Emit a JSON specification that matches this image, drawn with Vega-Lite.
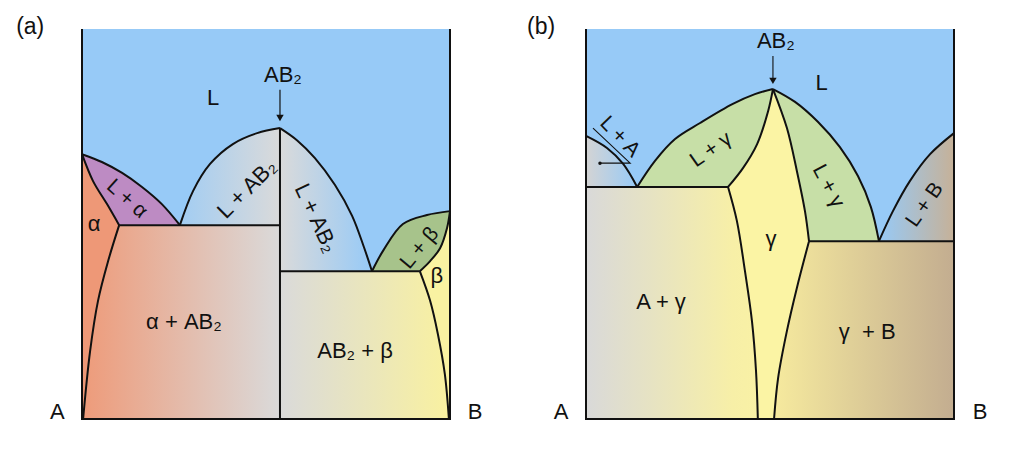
{
  "$schema": "https://vega.github.io/schema/vega-lite/v6.json",
  "padding": {"left": 16, "top": 16, "right": 0, "bottom": 0},
  "background": "white",
  "bounds": "flush",
  "spacing": 136,
  "config": {"view": {"stroke": null}, "font": "Liberation Sans"},
  "datasets": {
    "ar": [
      {"r": "alpha", "i": 0, "x": 0, "y": 67.9}, {"r": "alpha", "i": 1, "x": 3.0, "y": 61.0}, {"r": "alpha", "i": 2, "x": 6.8, "y": 55.1}, {"r": "alpha", "i": 3, "x": 10.1, "y": 49.7}, {"r": "alpha", "i": 4, "x": 10.1, "y": 49.7}, {"r": "alpha", "i": 5, "x": 7.1, "y": 40.5}, {"r": "alpha", "i": 6, "x": 4.35, "y": 30.3}, {"r": "alpha", "i": 7, "x": 2.2, "y": 17.4}, {"r": "alpha", "i": 8, "x": 0.3, "y": 0}, {"r": "alpha", "i": 9, "x": 0.3, "y": 0}, {"r": "alpha", "i": 10, "x": 0, "y": 0}, {"r": "alpha", "i": 11, "x": 0, "y": 0}, {"r": "alpha", "i": 12, "x": 0, "y": 67.9},
      {"r": "Lalpha", "i": 0, "x": 0, "y": 67.9}, {"r": "Lalpha", "i": 1, "x": 5.4, "y": 65.9}, {"r": "Lalpha", "i": 2, "x": 10.9, "y": 63.1}, {"r": "Lalpha", "i": 3, "x": 16.3, "y": 59.5}, {"r": "Lalpha", "i": 4, "x": 21.7, "y": 55.1}, {"r": "Lalpha", "i": 5, "x": 26.6, "y": 49.7}, {"r": "Lalpha", "i": 6, "x": 26.6, "y": 49.7}, {"r": "Lalpha", "i": 7, "x": 10.1, "y": 49.7}, {"r": "Lalpha", "i": 8, "x": 10.1, "y": 49.7}, {"r": "Lalpha", "i": 9, "x": 6.8, "y": 55.1}, {"r": "Lalpha", "i": 10, "x": 3.0, "y": 61.0}, {"r": "Lalpha", "i": 11, "x": 0, "y": 67.9},
      {"r": "alphaAB2", "i": 0, "x": 10.1, "y": 49.7}, {"r": "alphaAB2", "i": 1, "x": 53.8, "y": 49.7}, {"r": "alphaAB2", "i": 2, "x": 53.8, "y": 49.7}, {"r": "alphaAB2", "i": 3, "x": 53.8, "y": 0}, {"r": "alphaAB2", "i": 4, "x": 53.8, "y": 0}, {"r": "alphaAB2", "i": 5, "x": 0.3, "y": 0}, {"r": "alphaAB2", "i": 6, "x": 0.3, "y": 0}, {"r": "alphaAB2", "i": 7, "x": 2.2, "y": 17.4}, {"r": "alphaAB2", "i": 8, "x": 4.35, "y": 30.3}, {"r": "alphaAB2", "i": 9, "x": 7.1, "y": 40.5}, {"r": "alphaAB2", "i": 10, "x": 10.1, "y": 49.7},
      {"r": "LAB2l", "i": 0, "x": 26.6, "y": 49.7}, {"r": "LAB2l", "i": 1, "x": 30.2, "y": 58.5}, {"r": "LAB2l", "i": 2, "x": 34.8, "y": 65.4}, {"r": "LAB2l", "i": 3, "x": 41.0, "y": 70.5}, {"r": "LAB2l", "i": 4, "x": 47.6, "y": 73.3}, {"r": "LAB2l", "i": 5, "x": 53.8, "y": 74.6}, {"r": "LAB2l", "i": 6, "x": 53.8, "y": 74.6}, {"r": "LAB2l", "i": 7, "x": 53.8, "y": 49.7}, {"r": "LAB2l", "i": 8, "x": 53.8, "y": 49.7}, {"r": "LAB2l", "i": 9, "x": 26.6, "y": 49.7},
      {"r": "LAB2r", "i": 0, "x": 53.8, "y": 74.6}, {"r": "LAB2r", "i": 1, "x": 58.4, "y": 71.5}, {"r": "LAB2r", "i": 2, "x": 63.3, "y": 66.9}, {"r": "LAB2r", "i": 3, "x": 68.75, "y": 60.0}, {"r": "LAB2r", "i": 4, "x": 73.4, "y": 52.1}, {"r": "LAB2r", "i": 5, "x": 76.6, "y": 44.1}, {"r": "LAB2r", "i": 6, "x": 78.8, "y": 37.9}, {"r": "LAB2r", "i": 7, "x": 78.8, "y": 37.9}, {"r": "LAB2r", "i": 8, "x": 53.8, "y": 37.9}, {"r": "LAB2r", "i": 9, "x": 53.8, "y": 37.9}, {"r": "LAB2r", "i": 10, "x": 53.8, "y": 74.6},
      {"r": "AB2beta", "i": 0, "x": 53.8, "y": 37.9}, {"r": "AB2beta", "i": 1, "x": 91.8, "y": 37.9}, {"r": "AB2beta", "i": 2, "x": 91.8, "y": 37.9}, {"r": "AB2beta", "i": 3, "x": 94.6, "y": 30.3}, {"r": "AB2beta", "i": 4, "x": 96.7, "y": 21.8}, {"r": "AB2beta", "i": 5, "x": 98.6, "y": 11.5}, {"r": "AB2beta", "i": 6, "x": 99.7, "y": 0}, {"r": "AB2beta", "i": 7, "x": 99.7, "y": 0}, {"r": "AB2beta", "i": 8, "x": 53.8, "y": 0}, {"r": "AB2beta", "i": 9, "x": 53.8, "y": 0}, {"r": "AB2beta", "i": 10, "x": 53.8, "y": 37.9},
      {"r": "beta", "i": 0, "x": 91.8, "y": 37.9}, {"r": "beta", "i": 1, "x": 94.6, "y": 40.5}, {"r": "beta", "i": 2, "x": 97.3, "y": 43.8}, {"r": "beta", "i": 3, "x": 99.2, "y": 49.0}, {"r": "beta", "i": 4, "x": 100, "y": 53.3}, {"r": "beta", "i": 5, "x": 100, "y": 53.3}, {"r": "beta", "i": 6, "x": 100, "y": 0}, {"r": "beta", "i": 7, "x": 100, "y": 0}, {"r": "beta", "i": 8, "x": 99.7, "y": 0}, {"r": "beta", "i": 9, "x": 99.7, "y": 0}, {"r": "beta", "i": 10, "x": 98.6, "y": 11.5}, {"r": "beta", "i": 11, "x": 96.7, "y": 21.8}, {"r": "beta", "i": 12, "x": 94.6, "y": 30.3}, {"r": "beta", "i": 13, "x": 91.8, "y": 37.9},
      {"r": "Lbeta", "i": 0, "x": 78.8, "y": 37.9}, {"r": "Lbeta", "i": 1, "x": 81.8, "y": 43.1}, {"r": "Lbeta", "i": 2, "x": 87.2, "y": 50.0}, {"r": "Lbeta", "i": 3, "x": 93.75, "y": 52.3}, {"r": "Lbeta", "i": 4, "x": 100, "y": 53.3}, {"r": "Lbeta", "i": 5, "x": 100, "y": 53.3}, {"r": "Lbeta", "i": 6, "x": 99.2, "y": 49.0}, {"r": "Lbeta", "i": 7, "x": 97.3, "y": 43.8}, {"r": "Lbeta", "i": 8, "x": 94.6, "y": 40.5}, {"r": "Lbeta", "i": 9, "x": 91.8, "y": 37.9}, {"r": "Lbeta", "i": 10, "x": 91.8, "y": 37.9}, {"r": "Lbeta", "i": 11, "x": 78.8, "y": 37.9}
    ],
    "al": [
      {"s": "frame", "i": 0, "x": 0, "y": 100}, {"s": "frame", "i": 1, "x": 0, "y": 0}, {"s": "frame", "i": 2, "x": 0, "y": 0}, {"s": "frame", "i": 3, "x": 100, "y": 0}, {"s": "frame", "i": 4, "x": 100, "y": 0}, {"s": "frame", "i": 5, "x": 100, "y": 100},
      {"s": "liq1", "i": 0, "x": 0, "y": 67.9}, {"s": "liq1", "i": 1, "x": 5.4, "y": 65.9}, {"s": "liq1", "i": 2, "x": 10.9, "y": 63.1}, {"s": "liq1", "i": 3, "x": 16.3, "y": 59.5}, {"s": "liq1", "i": 4, "x": 21.7, "y": 55.1}, {"s": "liq1", "i": 5, "x": 26.6, "y": 49.7},
      {"s": "sol1", "i": 0, "x": 0, "y": 67.9}, {"s": "sol1", "i": 1, "x": 3.0, "y": 61.0}, {"s": "sol1", "i": 2, "x": 6.8, "y": 55.1}, {"s": "sol1", "i": 3, "x": 10.1, "y": 49.7},
      {"s": "solv1", "i": 0, "x": 10.1, "y": 49.7}, {"s": "solv1", "i": 1, "x": 7.1, "y": 40.5}, {"s": "solv1", "i": 2, "x": 4.35, "y": 30.3}, {"s": "solv1", "i": 3, "x": 2.2, "y": 17.4}, {"s": "solv1", "i": 4, "x": 0.3, "y": 0},
      {"s": "eut1", "i": 0, "x": 10.1, "y": 49.7}, {"s": "eut1", "i": 1, "x": 53.8, "y": 49.7},
      {"s": "liq2", "i": 0, "x": 26.6, "y": 49.7}, {"s": "liq2", "i": 1, "x": 30.2, "y": 58.5}, {"s": "liq2", "i": 2, "x": 34.8, "y": 65.4}, {"s": "liq2", "i": 3, "x": 41.0, "y": 70.5}, {"s": "liq2", "i": 4, "x": 47.6, "y": 73.3}, {"s": "liq2", "i": 5, "x": 53.8, "y": 74.6},
      {"s": "ab2", "i": 0, "x": 53.8, "y": 74.6}, {"s": "ab2", "i": 1, "x": 53.8, "y": 0},
      {"s": "liq3", "i": 0, "x": 53.8, "y": 74.6}, {"s": "liq3", "i": 1, "x": 58.4, "y": 71.5}, {"s": "liq3", "i": 2, "x": 63.3, "y": 66.9}, {"s": "liq3", "i": 3, "x": 68.75, "y": 60.0}, {"s": "liq3", "i": 4, "x": 73.4, "y": 52.1}, {"s": "liq3", "i": 5, "x": 76.6, "y": 44.1}, {"s": "liq3", "i": 6, "x": 78.8, "y": 37.9},
      {"s": "eut2", "i": 0, "x": 53.8, "y": 37.9}, {"s": "eut2", "i": 1, "x": 91.8, "y": 37.9},
      {"s": "liq4", "i": 0, "x": 78.8, "y": 37.9}, {"s": "liq4", "i": 1, "x": 81.8, "y": 43.1}, {"s": "liq4", "i": 2, "x": 87.2, "y": 50.0}, {"s": "liq4", "i": 3, "x": 93.75, "y": 52.3}, {"s": "liq4", "i": 4, "x": 100, "y": 53.3},
      {"s": "sol4", "i": 0, "x": 100, "y": 53.3}, {"s": "sol4", "i": 1, "x": 99.2, "y": 49.0}, {"s": "sol4", "i": 2, "x": 97.3, "y": 43.8}, {"s": "sol4", "i": 3, "x": 94.6, "y": 40.5}, {"s": "sol4", "i": 4, "x": 91.8, "y": 37.9},
      {"s": "solv4", "i": 0, "x": 91.8, "y": 37.9}, {"s": "solv4", "i": 1, "x": 94.6, "y": 30.3}, {"s": "solv4", "i": 2, "x": 96.7, "y": 21.8}, {"s": "solv4", "i": 3, "x": 98.6, "y": 11.5}, {"s": "solv4", "i": 4, "x": 99.7, "y": 0}
    ],
    "br": [
      {"r": "LA", "i": 0, "x": 0, "y": 72.6}, {"r": "LA", "i": 1, "x": 5.7, "y": 69.5}, {"r": "LA", "i": 2, "x": 10.1, "y": 65.4}, {"r": "LA", "i": 3, "x": 13.9, "y": 59.5}, {"r": "LA", "i": 4, "x": 13.9, "y": 59.5}, {"r": "LA", "i": 5, "x": 0, "y": 59.5}, {"r": "LA", "i": 6, "x": 0, "y": 59.5}, {"r": "LA", "i": 7, "x": 0, "y": 72.6},
      {"r": "Agamma", "i": 0, "x": 0, "y": 59.5}, {"r": "Agamma", "i": 1, "x": 38.6, "y": 59.5}, {"r": "Agamma", "i": 2, "x": 38.6, "y": 59.5}, {"r": "Agamma", "i": 3, "x": 41.0, "y": 50.8}, {"r": "Agamma", "i": 4, "x": 43.2, "y": 37.9}, {"r": "Agamma", "i": 5, "x": 45.1, "y": 25.1}, {"r": "Agamma", "i": 6, "x": 46.2, "y": 12.3}, {"r": "Agamma", "i": 7, "x": 46.7, "y": 0}, {"r": "Agamma", "i": 8, "x": 46.7, "y": 0}, {"r": "Agamma", "i": 9, "x": 0, "y": 0}, {"r": "Agamma", "i": 10, "x": 0, "y": 0}, {"r": "Agamma", "i": 11, "x": 0, "y": 59.5},
      {"r": "Lgl", "i": 0, "x": 13.9, "y": 59.5}, {"r": "Lgl", "i": 1, "x": 18.75, "y": 66.2}, {"r": "Lgl", "i": 2, "x": 24.2, "y": 71.8}, {"r": "Lgl", "i": 3, "x": 31.0, "y": 75.9}, {"r": "Lgl", "i": 4, "x": 39.9, "y": 80.8}, {"r": "Lgl", "i": 5, "x": 45.9, "y": 83.3}, {"r": "Lgl", "i": 6, "x": 50.8, "y": 84.6}, {"r": "Lgl", "i": 7, "x": 50.8, "y": 84.6}, {"r": "Lgl", "i": 8, "x": 49.5, "y": 79.0}, {"r": "Lgl", "i": 9, "x": 46.5, "y": 70.5}, {"r": "Lgl", "i": 10, "x": 42.7, "y": 64.4}, {"r": "Lgl", "i": 11, "x": 38.6, "y": 59.5}, {"r": "Lgl", "i": 12, "x": 38.6, "y": 59.5}, {"r": "Lgl", "i": 13, "x": 13.9, "y": 59.5},
      {"r": "gamma", "i": 0, "x": 50.8, "y": 84.6}, {"r": "gamma", "i": 1, "x": 54.6, "y": 74.6}, {"r": "gamma", "i": 2, "x": 57.3, "y": 63.6}, {"r": "gamma", "i": 3, "x": 59.5, "y": 53.3}, {"r": "gamma", "i": 4, "x": 60.6, "y": 45.6}, {"r": "gamma", "i": 5, "x": 60.6, "y": 45.6}, {"r": "gamma", "i": 6, "x": 57.3, "y": 33.6}, {"r": "gamma", "i": 7, "x": 54.6, "y": 22.6}, {"r": "gamma", "i": 8, "x": 52.2, "y": 10.5}, {"r": "gamma", "i": 9, "x": 51.1, "y": 0}, {"r": "gamma", "i": 10, "x": 51.1, "y": 0}, {"r": "gamma", "i": 11, "x": 46.7, "y": 0}, {"r": "gamma", "i": 12, "x": 46.7, "y": 0}, {"r": "gamma", "i": 13, "x": 46.2, "y": 12.3}, {"r": "gamma", "i": 14, "x": 45.1, "y": 25.1}, {"r": "gamma", "i": 15, "x": 43.2, "y": 37.9}, {"r": "gamma", "i": 16, "x": 41.0, "y": 50.8}, {"r": "gamma", "i": 17, "x": 38.6, "y": 59.5}, {"r": "gamma", "i": 18, "x": 38.6, "y": 59.5}, {"r": "gamma", "i": 19, "x": 42.7, "y": 64.4}, {"r": "gamma", "i": 20, "x": 46.5, "y": 70.5}, {"r": "gamma", "i": 21, "x": 49.5, "y": 79.0}, {"r": "gamma", "i": 22, "x": 50.8, "y": 84.6},
      {"r": "Lgr", "i": 0, "x": 50.8, "y": 84.6}, {"r": "Lgr", "i": 1, "x": 56.8, "y": 81.3}, {"r": "Lgr", "i": 2, "x": 63.0, "y": 76.2}, {"r": "Lgr", "i": 3, "x": 69.0, "y": 69.7}, {"r": "Lgr", "i": 4, "x": 73.9, "y": 62.3}, {"r": "Lgr", "i": 5, "x": 77.4, "y": 54.4}, {"r": "Lgr", "i": 6, "x": 79.6, "y": 45.6}, {"r": "Lgr", "i": 7, "x": 79.6, "y": 45.6}, {"r": "Lgr", "i": 8, "x": 60.6, "y": 45.6}, {"r": "Lgr", "i": 9, "x": 60.6, "y": 45.6}, {"r": "Lgr", "i": 10, "x": 59.5, "y": 53.3}, {"r": "Lgr", "i": 11, "x": 57.3, "y": 63.6}, {"r": "Lgr", "i": 12, "x": 54.6, "y": 74.6}, {"r": "Lgr", "i": 13, "x": 50.8, "y": 84.6},
      {"r": "gammaB", "i": 0, "x": 60.6, "y": 45.6}, {"r": "gammaB", "i": 1, "x": 100, "y": 45.6}, {"r": "gammaB", "i": 2, "x": 100, "y": 45.6}, {"r": "gammaB", "i": 3, "x": 100, "y": 0}, {"r": "gammaB", "i": 4, "x": 100, "y": 0}, {"r": "gammaB", "i": 5, "x": 51.1, "y": 0}, {"r": "gammaB", "i": 6, "x": 51.1, "y": 0}, {"r": "gammaB", "i": 7, "x": 52.2, "y": 10.5}, {"r": "gammaB", "i": 8, "x": 54.6, "y": 22.6}, {"r": "gammaB", "i": 9, "x": 57.3, "y": 33.6}, {"r": "gammaB", "i": 10, "x": 60.6, "y": 45.6},
      {"r": "LB", "i": 0, "x": 79.6, "y": 45.6}, {"r": "LB", "i": 1, "x": 83.4, "y": 53.3}, {"r": "LB", "i": 2, "x": 88.0, "y": 61.0}, {"r": "LB", "i": 3, "x": 93.5, "y": 67.9}, {"r": "LB", "i": 4, "x": 100, "y": 73.3}, {"r": "LB", "i": 5, "x": 100, "y": 73.3}, {"r": "LB", "i": 6, "x": 100, "y": 45.6}, {"r": "LB", "i": 7, "x": 100, "y": 45.6}, {"r": "LB", "i": 8, "x": 79.6, "y": 45.6}
    ],
    "bl": [
      {"s": "frame", "i": 0, "x": 0, "y": 100}, {"s": "frame", "i": 1, "x": 0, "y": 0}, {"s": "frame", "i": 2, "x": 0, "y": 0}, {"s": "frame", "i": 3, "x": 100, "y": 0}, {"s": "frame", "i": 4, "x": 100, "y": 0}, {"s": "frame", "i": 5, "x": 100, "y": 100},
      {"s": "liqA", "i": 0, "x": 0, "y": 72.6}, {"s": "liqA", "i": 1, "x": 5.7, "y": 69.5}, {"s": "liqA", "i": 2, "x": 10.1, "y": 65.4}, {"s": "liqA", "i": 3, "x": 13.9, "y": 59.5},
      {"s": "eutA", "i": 0, "x": 0, "y": 59.5}, {"s": "eutA", "i": 1, "x": 38.6, "y": 59.5},
      {"s": "liqG1", "i": 0, "x": 13.9, "y": 59.5}, {"s": "liqG1", "i": 1, "x": 18.75, "y": 66.2}, {"s": "liqG1", "i": 2, "x": 24.2, "y": 71.8}, {"s": "liqG1", "i": 3, "x": 31.0, "y": 75.9}, {"s": "liqG1", "i": 4, "x": 39.9, "y": 80.8}, {"s": "liqG1", "i": 5, "x": 45.9, "y": 83.3}, {"s": "liqG1", "i": 6, "x": 50.8, "y": 84.6},
      {"s": "solG1", "i": 0, "x": 50.8, "y": 84.6}, {"s": "solG1", "i": 1, "x": 49.5, "y": 79.0}, {"s": "solG1", "i": 2, "x": 46.5, "y": 70.5}, {"s": "solG1", "i": 3, "x": 42.7, "y": 64.4}, {"s": "solG1", "i": 4, "x": 38.6, "y": 59.5},
      {"s": "solvG1", "i": 0, "x": 38.6, "y": 59.5}, {"s": "solvG1", "i": 1, "x": 41.0, "y": 50.8}, {"s": "solvG1", "i": 2, "x": 43.2, "y": 37.9}, {"s": "solvG1", "i": 3, "x": 45.1, "y": 25.1}, {"s": "solvG1", "i": 4, "x": 46.2, "y": 12.3}, {"s": "solvG1", "i": 5, "x": 46.7, "y": 0},
      {"s": "solG2", "i": 0, "x": 50.8, "y": 84.6}, {"s": "solG2", "i": 1, "x": 54.6, "y": 74.6}, {"s": "solG2", "i": 2, "x": 57.3, "y": 63.6}, {"s": "solG2", "i": 3, "x": 59.5, "y": 53.3}, {"s": "solG2", "i": 4, "x": 60.6, "y": 45.6},
      {"s": "solvG2", "i": 0, "x": 60.6, "y": 45.6}, {"s": "solvG2", "i": 1, "x": 57.3, "y": 33.6}, {"s": "solvG2", "i": 2, "x": 54.6, "y": 22.6}, {"s": "solvG2", "i": 3, "x": 52.2, "y": 10.5}, {"s": "solvG2", "i": 4, "x": 51.1, "y": 0},
      {"s": "liqG2", "i": 0, "x": 50.8, "y": 84.6}, {"s": "liqG2", "i": 1, "x": 56.8, "y": 81.3}, {"s": "liqG2", "i": 2, "x": 63.0, "y": 76.2}, {"s": "liqG2", "i": 3, "x": 69.0, "y": 69.7}, {"s": "liqG2", "i": 4, "x": 73.9, "y": 62.3}, {"s": "liqG2", "i": 5, "x": 77.4, "y": 54.4}, {"s": "liqG2", "i": 6, "x": 79.6, "y": 45.6},
      {"s": "eutB", "i": 0, "x": 60.6, "y": 45.6}, {"s": "eutB", "i": 1, "x": 100, "y": 45.6},
      {"s": "liqB", "i": 0, "x": 79.6, "y": 45.6}, {"s": "liqB", "i": 1, "x": 83.4, "y": 53.3}, {"s": "liqB", "i": 2, "x": 88.0, "y": 61.0}, {"s": "liqB", "i": 3, "x": 93.5, "y": 67.9}, {"s": "liqB", "i": 4, "x": 100, "y": 73.3}
    ]
  },
  "hconcat": [
    {
      "width": 368,
      "height": 390,
      "encoding": {
        "x": {"field": "x", "type": "quantitative", "scale": {"domain": [0, 100], "nice": false}, "axis": null},
        "y": {"field": "y", "type": "quantitative", "scale": {"domain": [0, 100], "nice": false}, "axis": null}
      },
      "layer": [
        {"data": {"values": [{"x": 0, "y": 0, "x2": 100, "y2": 100}]}, "mark": {"type": "rect", "color": "#97CAF7"}, "encoding": {"x2": {"field": "x2"}, "y2": {"field": "y2"}}},
        {"data": {"name": "ar"}, "transform": [{"filter": "datum.r === 'alpha'"}], "mark": {"type": "line", "interpolate": "catmull-rom", "filled": true, "fill": "#EE9877", "strokeWidth": 0}, "encoding": {"order": {"field": "i", "type": "quantitative"}}},
        {"data": {"name": "ar"}, "transform": [{"filter": "datum.r === 'Lalpha'"}], "mark": {"type": "line", "interpolate": "catmull-rom", "filled": true, "fill": "#BD8BC3", "strokeWidth": 0}, "encoding": {"order": {"field": "i", "type": "quantitative"}}},
        {"data": {"name": "ar"}, "transform": [{"filter": "datum.r === 'alphaAB2'"}], "mark": {"type": "line", "interpolate": "catmull-rom", "filled": true, "strokeWidth": 0, "fill": {"gradient": "linear", "x1": 0, "y1": 0, "x2": 1, "y2": 0, "stops": [{"offset": 0, "color": "#EE9B7A"}, {"offset": 1, "color": "#DADADA"}]}}, "encoding": {"order": {"field": "i", "type": "quantitative"}}},
        {"data": {"name": "ar"}, "transform": [{"filter": "datum.r === 'LAB2l'"}], "mark": {"type": "line", "interpolate": "catmull-rom", "filled": true, "strokeWidth": 0, "fill": {"gradient": "linear", "x1": 0, "y1": 0, "x2": 1, "y2": 0, "stops": [{"offset": 0, "color": "#A2CDF3"}, {"offset": 1, "color": "#DADADA"}]}}, "encoding": {"order": {"field": "i", "type": "quantitative"}}},
        {"data": {"name": "ar"}, "transform": [{"filter": "datum.r === 'LAB2r'"}], "mark": {"type": "line", "interpolate": "catmull-rom", "filled": true, "strokeWidth": 0, "fill": {"gradient": "linear", "x1": 0, "y1": 0, "x2": 1, "y2": 0, "stops": [{"offset": 0, "color": "#DADADA"}, {"offset": 1, "color": "#97CAF7"}]}}, "encoding": {"order": {"field": "i", "type": "quantitative"}}},
        {"data": {"name": "ar"}, "transform": [{"filter": "datum.r === 'AB2beta'"}], "mark": {"type": "line", "interpolate": "catmull-rom", "filled": true, "strokeWidth": 0, "fill": {"gradient": "linear", "x1": 0, "y1": 0, "x2": 1, "y2": 0, "stops": [{"offset": 0, "color": "#DADADA"}, {"offset": 1, "color": "#F9F1A0"}]}}, "encoding": {"order": {"field": "i", "type": "quantitative"}}},
        {"data": {"name": "ar"}, "transform": [{"filter": "datum.r === 'beta'"}], "mark": {"type": "line", "interpolate": "catmull-rom", "filled": true, "fill": "#F9F2A2", "strokeWidth": 0}, "encoding": {"order": {"field": "i", "type": "quantitative"}}},
        {"data": {"name": "ar"}, "transform": [{"filter": "datum.r === 'Lbeta'"}], "mark": {"type": "line", "interpolate": "catmull-rom", "filled": true, "fill": "#A7C38B", "strokeWidth": 0}, "encoding": {"order": {"field": "i", "type": "quantitative"}}},
        {"data": {"name": "al"}, "mark": {"type": "line", "interpolate": "catmull-rom", "color": "#111111", "strokeWidth": 2, "strokeJoin": "miter"}, "encoding": {"detail": {"field": "s"}, "order": {"field": "i", "type": "quantitative"}}},
        {"data": {"values": [{"x": 53.8, "y": 84.4}, {"x": 53.8, "y": 77.6}]}, "mark": {"type": "line", "color": "#111111", "strokeWidth": 1.2}, "encoding": {}},
        {"data": {"values": [{"x": 53.8, "y": 77.2}]}, "mark": {"type": "point", "shape": "triangle-down", "filled": true, "color": "#111111", "size": 55, "opacity": 1}},
        {"data": {"values": [
          {"t": "L", "x": 35.6, "y": 82.4},
          {"t": "AB₂", "x": 54.6, "y": 88.3},
          {"t": "α", "x": 3.3, "y": 50.0},
          {"t": "β", "x": 96.4, "y": 36.7},
          {"t": "α + AB₂", "x": 27.7, "y": 24.9},
          {"t": "AB₂ + β", "x": 74.2, "y": 17.4},
          {"t": "A", "x": -6.7, "y": 1.8},
          {"t": "B", "x": 106.8, "y": 1.8}
        ]}, "mark": {"type": "text", "fontSize": 22, "font": "Liberation Sans", "color": "#111111", "baseline": "middle"}, "encoding": {"text": {"field": "t"}}},
        {"data": {"values": [{"t": "(a)", "x": -17.9, "y": 103.3}]}, "mark": {"type": "text", "fontSize": 23, "font": "Liberation Sans", "color": "#111111", "align": "left", "baseline": "top"}, "encoding": {"text": {"field": "t"}}},
        {"data": {"values": [{"t": "L + α", "x": 12.2, "y": 56.4}]}, "mark": {"type": "text", "fontSize": 21, "font": "Liberation Sans", "color": "#111111", "baseline": "middle", "angle": 42}, "encoding": {"text": {"field": "t"}}},
        {"data": {"values": [{"t": "L + AB₂", "x": 44.8, "y": 59.0}]}, "mark": {"type": "text", "fontSize": 22, "font": "Liberation Sans", "color": "#111111", "baseline": "middle", "angle": -45}, "encoding": {"text": {"field": "t"}}},
        {"data": {"values": [{"t": "L + AB₂", "x": 63.6, "y": 51.5}]}, "mark": {"type": "text", "fontSize": 22, "font": "Liberation Sans", "color": "#111111", "baseline": "middle", "angle": 65}, "encoding": {"text": {"field": "t"}}},
        {"data": {"values": [{"t": "L + β", "x": 91.8, "y": 43.8}]}, "mark": {"type": "text", "fontSize": 21, "font": "Liberation Sans", "color": "#111111", "baseline": "middle", "angle": -50}, "encoding": {"text": {"field": "t"}}}
      ]
    },
    {
      "width": 368,
      "height": 390,
      "encoding": {
        "x": {"field": "x", "type": "quantitative", "scale": {"domain": [0, 100], "nice": false}, "axis": null},
        "y": {"field": "y", "type": "quantitative", "scale": {"domain": [0, 100], "nice": false}, "axis": null}
      },
      "layer": [
        {"data": {"values": [{"x": 0, "y": 0, "x2": 100, "y2": 100}]}, "mark": {"type": "rect", "color": "#97CAF7"}, "encoding": {"x2": {"field": "x2"}, "y2": {"field": "y2"}}},
        {"data": {"name": "br"}, "transform": [{"filter": "datum.r === 'LA'"}], "mark": {"type": "line", "interpolate": "catmull-rom", "filled": true, "strokeWidth": 0, "fill": {"gradient": "linear", "x1": 0, "y1": 0, "x2": 1, "y2": 0, "stops": [{"offset": 0, "color": "#D4D4D4"}, {"offset": 1, "color": "#97CAF7"}]}}, "encoding": {"order": {"field": "i", "type": "quantitative"}}},
        {"data": {"name": "br"}, "transform": [{"filter": "datum.r === 'Agamma'"}], "mark": {"type": "line", "interpolate": "catmull-rom", "filled": true, "strokeWidth": 0, "fill": {"gradient": "linear", "x1": 0, "y1": 0, "x2": 1, "y2": 0, "stops": [{"offset": 0, "color": "#D9D9D9"}, {"offset": 0.85, "color": "#F7EFA7"}, {"offset": 1, "color": "#F9F1A5"}]}}, "encoding": {"order": {"field": "i", "type": "quantitative"}}},
        {"data": {"name": "br"}, "transform": [{"filter": "datum.r === 'Lgl'"}], "mark": {"type": "line", "interpolate": "catmull-rom", "filled": true, "fill": "#C7DFA7", "strokeWidth": 0}, "encoding": {"order": {"field": "i", "type": "quantitative"}}},
        {"data": {"name": "br"}, "transform": [{"filter": "datum.r === 'gamma'"}], "mark": {"type": "line", "interpolate": "catmull-rom", "filled": true, "fill": "#FBF4A4", "strokeWidth": 0}, "encoding": {"order": {"field": "i", "type": "quantitative"}}},
        {"data": {"name": "br"}, "transform": [{"filter": "datum.r === 'Lgr'"}], "mark": {"type": "line", "interpolate": "catmull-rom", "filled": true, "fill": "#C7DFA7", "strokeWidth": 0}, "encoding": {"order": {"field": "i", "type": "quantitative"}}},
        {"data": {"name": "br"}, "transform": [{"filter": "datum.r === 'gammaB'"}], "mark": {"type": "line", "interpolate": "catmull-rom", "filled": true, "strokeWidth": 0, "fill": {"gradient": "linear", "x1": 0, "y1": 0, "x2": 1, "y2": 0, "stops": [{"offset": 0, "color": "#F6EA9E"}, {"offset": 1, "color": "#C3AD90"}]}}, "encoding": {"order": {"field": "i", "type": "quantitative"}}},
        {"data": {"name": "br"}, "transform": [{"filter": "datum.r === 'LB'"}], "mark": {"type": "line", "interpolate": "catmull-rom", "filled": true, "strokeWidth": 0, "fill": {"gradient": "linear", "x1": 0, "y1": 0, "x2": 1, "y2": 0, "stops": [{"offset": 0, "color": "#97CAF7"}, {"offset": 1, "color": "#C6B198"}]}}, "encoding": {"order": {"field": "i", "type": "quantitative"}}},
        {"data": {"name": "bl"}, "mark": {"type": "line", "interpolate": "catmull-rom", "color": "#111111", "strokeWidth": 2, "strokeJoin": "miter"}, "encoding": {"detail": {"field": "s"}, "order": {"field": "i", "type": "quantitative"}}},
        {"data": {"values": [
          {"s": "arrow", "i": 0, "x": 50.8, "y": 93.1}, {"s": "arrow", "i": 1, "x": 50.8, "y": 87.2},
          {"s": "lead", "i": 0, "x": 1.9, "y": 74.6}, {"s": "lead", "i": 1, "x": 12.0, "y": 65.6}, {"s": "lead", "i": 2, "x": 3.8, "y": 65.6}
        ]}, "mark": {"type": "line", "color": "#111111", "strokeWidth": 1.1}, "encoding": {"detail": {"field": "s"}, "order": {"field": "i", "type": "quantitative"}}},
        {"data": {"values": [{"x": 50.8, "y": 86.7}]}, "mark": {"type": "point", "shape": "triangle-down", "filled": true, "color": "#111111", "size": 55, "opacity": 1}},
        {"data": {"values": [{"x": 3.8, "y": 65.6}]}, "mark": {"type": "point", "shape": "circle", "filled": true, "color": "#111111", "size": 12, "opacity": 1}},
        {"data": {"values": [
          {"t": "AB₂", "x": 51.6, "y": 96.9},
          {"t": "L", "x": 64.0, "y": 86.2},
          {"t": "γ", "x": 50.3, "y": 46.2},
          {"t": "A + γ", "x": 20.4, "y": 30.0},
          {"t": "γ\u00a0\u00a0+ B", "x": 76.4, "y": 22.3},
          {"t": "A", "x": -6.8, "y": 1.8},
          {"t": "B", "x": 107.1, "y": 1.8}
        ]}, "mark": {"type": "text", "fontSize": 22, "font": "Liberation Sans", "color": "#111111", "baseline": "middle"}, "encoding": {"text": {"field": "t"}}},
        {"data": {"values": [{"t": "(b)", "x": -16.0, "y": 103.3}]}, "mark": {"type": "text", "fontSize": 23, "font": "Liberation Sans", "color": "#111111", "align": "left", "baseline": "top"}, "encoding": {"text": {"field": "t"}}},
        {"data": {"values": [{"t": "L + A", "x": 9.2, "y": 72.3}]}, "mark": {"type": "text", "fontSize": 21, "font": "Liberation Sans", "color": "#111111", "baseline": "middle", "angle": 46}, "encoding": {"text": {"field": "t"}}},
        {"data": {"values": [{"t": "L + γ", "x": 34.0, "y": 69.0}]}, "mark": {"type": "text", "fontSize": 21, "font": "Liberation Sans", "color": "#111111", "baseline": "middle", "angle": -35}, "encoding": {"text": {"field": "t"}}},
        {"data": {"values": [{"t": "L + γ", "x": 65.8, "y": 59.7}]}, "mark": {"type": "text", "fontSize": 21, "font": "Liberation Sans", "color": "#111111", "baseline": "middle", "angle": 62}, "encoding": {"text": {"field": "t"}}},
        {"data": {"values": [{"t": "L + B", "x": 92.1, "y": 54.9}]}, "mark": {"type": "text", "fontSize": 21, "font": "Liberation Sans", "color": "#111111", "baseline": "middle", "angle": -55}, "encoding": {"text": {"field": "t"}}}
      ]
    }
  ]
}
